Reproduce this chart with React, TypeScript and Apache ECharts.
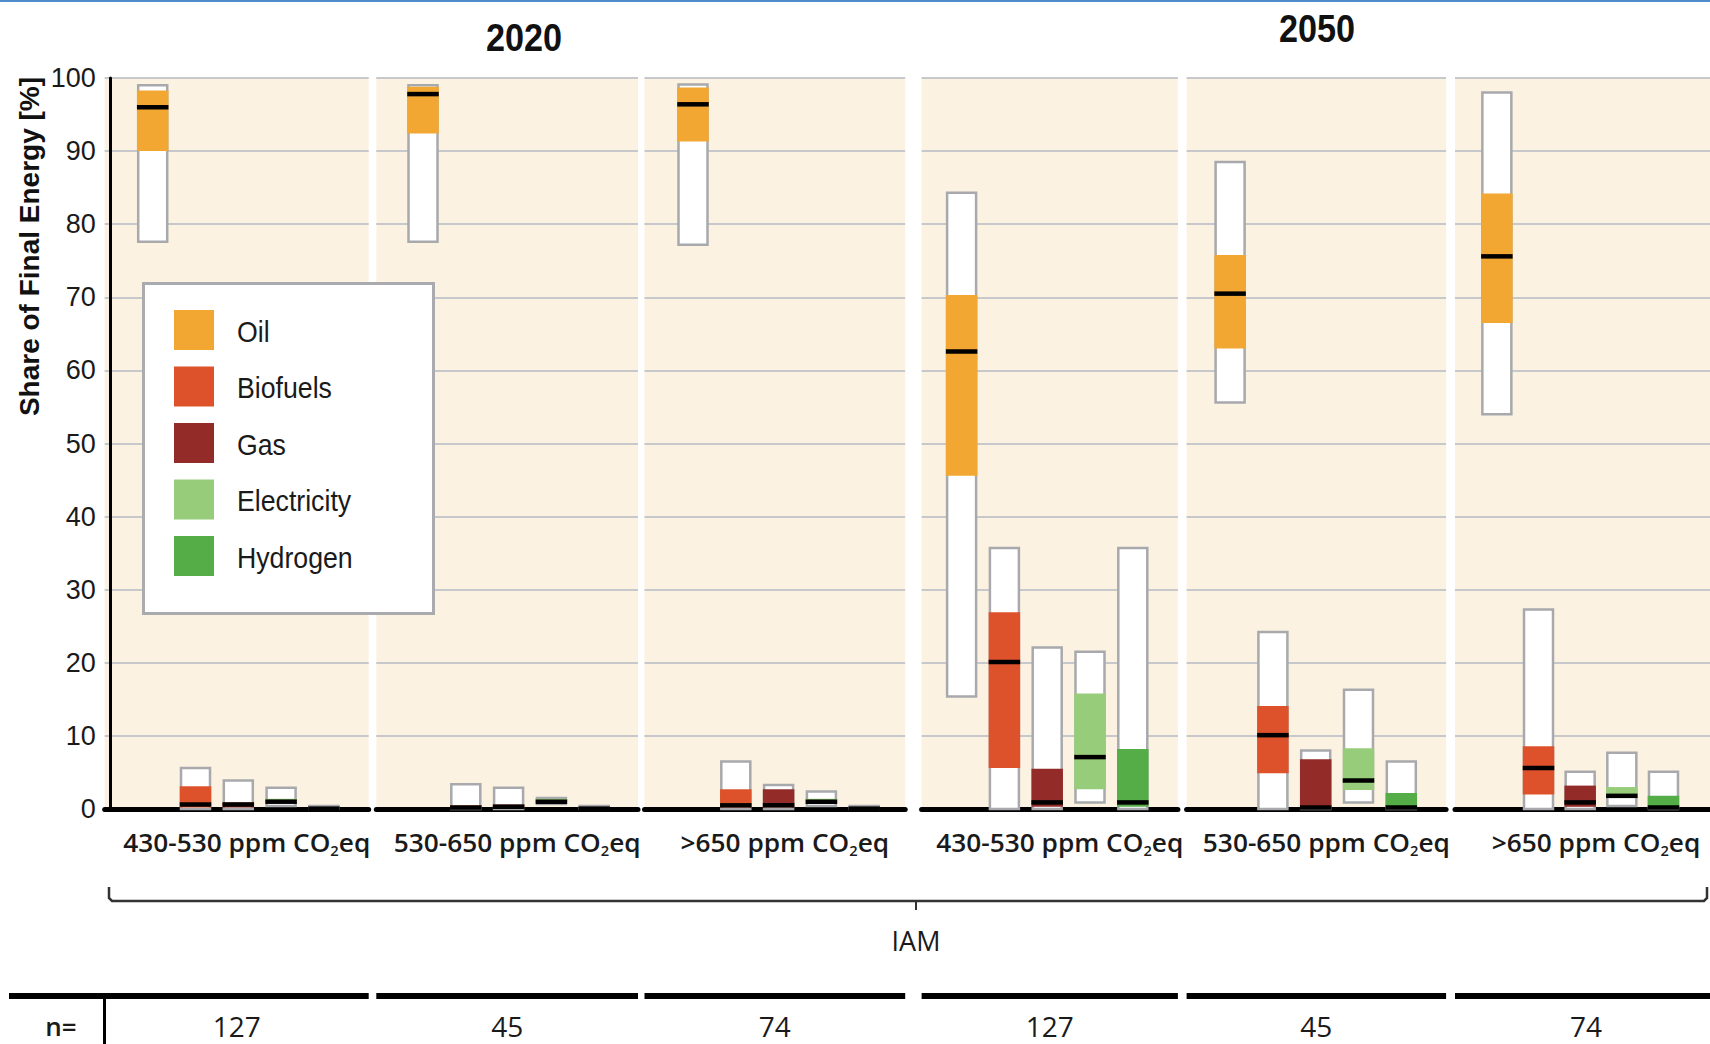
import { useEffect, useRef } from 'react';
import * as echarts from 'echarts';

// Energy carriers shown in every panel, left to right
const categories = ['Oil', 'Biofuels', 'Gas', 'Electricity', 'Hydrogen'];
const carrierColors = ['#f1a731', '#dd522b', '#932b29', '#97cc7a', '#55ad47'];
const years = ['2020', '2050'];
const scenarios = ['430-530 ppm CO2eq', '530-650 ppm CO2eq', '>650 ppm CO2eq'];
const sampleSizes = [127, 45, 74, 127, 45, 74];
const groupLabel = 'IAM';
const yAxisTitle = 'Share of Final Energy [%]';

// Each row: [min, 25th percentile, median, 75th percentile, max] in % of final energy
const y2020_430 = [
  [77.6, 90.0, 96.0, 98.3, 99.0],
  [0, 0.2, 0.6, 3.1, 5.6],
  [0, 0.2, 0.6, 0.9, 3.9],
  [0.4, 0.8, 1.0, 1.4, 2.9],
  [0, 0, 0.05, 0.1, 0.4],
];
const y2020_530 = [
  [77.6, 92.4, 97.8, 98.8, 99.0],
  [0, 0.1, 0.2, 0.5, 3.4],
  [0, 0.1, 0.3, 0.6, 2.9],
  [0.7, 0.9, 1.0, 1.4, 1.5],
  [0, 0, 0.05, 0.1, 0.4],
];
const y2020_650 = [
  [77.2, 91.3, 96.4, 98.7, 99.1],
  [0, 0.2, 0.5, 2.7, 6.5],
  [0, 0.2, 0.5, 2.7, 3.3],
  [0.4, 0.8, 1.0, 1.4, 2.4],
  [0, 0, 0.05, 0.1, 0.4],
];
const y2050_430 = [
  [15.4, 45.6, 62.6, 70.3, 84.3],
  [0, 5.6, 20.1, 26.9, 35.7],
  [0, 0.3, 0.9, 5.5, 22.1],
  [0.9, 2.7, 7.1, 15.8, 21.5],
  [0, 0.3, 0.9, 8.2, 35.7],
];
const y2050_530 = [
  [55.6, 63.0, 70.5, 75.8, 88.5],
  [0, 4.9, 10.1, 14.1, 24.2],
  [0, 0.1, 0.2, 6.8, 8.0],
  [0.9, 2.6, 3.9, 8.3, 16.3],
  [0, 0.1, 0.2, 2.2, 6.5],
];
const y2050_650 = [
  [54.0, 66.5, 75.6, 84.2, 98.0],
  [0, 2.0, 5.6, 8.6, 27.3],
  [0, 0.3, 0.9, 3.2, 5.1],
  [0.4, 1.6, 1.8, 3.0, 7.7],
  [0, 0.1, 0.2, 1.8, 5.1],
];
const panelStats = [y2020_430, y2020_530, y2020_650, y2050_430, y2050_530, y2050_650];

// Panel geometry (pixels)
const PANELS = [
  { left: 104.7, width: 264, first: 48 },
  { left: 376.3, width: 261.7, first: 46.7 },
  { left: 644.5, width: 260.7, first: 48.5 },
  { left: 921.6, width: 256.3, first: 40 },
  { left: 1186.6, width: 259.5, first: 43.5 },
  { left: 1455, width: 262, first: 43 },
];
const STEP = 42.8;
const GRID_TOP = 78;
const GRID_H = 731;
const BAR_W = 29;

const ARIAL = "'Liberation Sans', Arial, sans-serif";
const SANS = "'Open Sans', 'Noto Sans', sans-serif";

function richScenario(label: string) {
  const i = label.indexOf('CO2');
  return `{t|${label.slice(0, i + 2)}}{s|2}{t|${label.slice(i + 3)}}`;
}

export default function App() {
  const ref = useRef<HTMLDivElement>(null);

  useEffect(() => {
    if (!ref.current) return;
    const chart = echarts.init(ref.current, undefined, { renderer: 'svg' });

    const grids: any[] = [];
    const xAxes: any[] = [];
    const yAxes: any[] = [];
    const series: any[] = [];

    PANELS.forEach((p, k) => {
      const xmin = 1 - p.first / STEP;
      grids.push({
        left: p.left,
        width: p.width,
        top: GRID_TOP,
        height: GRID_H,
        show: true,
        borderWidth: 0,
        backgroundColor: '#fcf2e2',
      });
      xAxes.push({
        type: 'value',
        gridIndex: k,
        min: xmin,
        max: xmin + p.width / STEP,
        axisLine: { show: true, onZero: false, lineStyle: { color: '#000', width: 5 } },
        axisTick: { show: false },
        axisLabel: { show: false },
        splitLine: { show: false },
      });
      yAxes.push({
        type: 'value',
        gridIndex: k,
        min: 0,
        max: 100,
        interval: 10,
        axisLine: { show: k === 0, lineStyle: { color: '#000', width: 3 } },
        axisTick: { show: false },
        axisLabel: {
          show: k === 0,
          margin: 9,
          fontFamily: ARIAL,
          fontSize: 27,
          color: '#1a1a1a',
        },
        splitLine: { show: true, lineStyle: { color: '#c6c8cb', width: 2 } },
      });
      series.push({
        type: 'custom',
        xAxisIndex: k,
        yAxisIndex: k,
        clip: false,
        data: panelStats[k].map((s, i) => [i + 1, ...s]),
        renderItem: (params: any, api: any) => {
          const x = api.value(0);
          const lo = api.coord([x, api.value(1)]);
          const q1 = api.coord([x, api.value(2)]);
          const md = api.coord([x, api.value(3)]);
          const q3 = api.coord([x, api.value(4)]);
          const hi = api.coord([x, api.value(5)]);
          const cx = lo[0];
          const color = carrierColors[params.dataIndex];
          return {
            type: 'group',
            children: [
              {
                type: 'rect',
                shape: { x: cx - BAR_W / 2, y: hi[1], width: BAR_W, height: lo[1] - hi[1] },
                style: { fill: '#ffffff', stroke: '#a7a9ac', lineWidth: 2.5 },
              },
              {
                type: 'rect',
                shape: { x: cx - BAR_W / 2 - 1.25, y: q3[1], width: BAR_W + 2.5, height: q1[1] - q3[1] },
                style: { fill: color },
              },
              {
                type: 'line',
                shape: { x1: cx - BAR_W / 2 - 1.25, y1: md[1], x2: cx + BAR_W / 2 + 1.25, y2: md[1] },
                style: { stroke: '#000', lineWidth: 4.5 },
              },
            ],
          };
        },
      });
    });

    const graphics: any[] = [];
    // thin blue rule along the top edge
    graphics.push({ type: 'rect', shape: { x: 0, y: 0, width: 1710, height: 2 }, style: { fill: '#4f8bcb' } });

    // year headings
    graphics.push({
      type: 'text', x: 524, y: 37.5, scaleX: 0.9,
      style: { text: years[0], font: `bold 38px ${ARIAL}`, fill: '#111', align: 'center', verticalAlign: 'middle' },
    });
    graphics.push({
      type: 'text', x: 1317, y: 29, scaleX: 0.9,
      style: { text: years[1], font: `bold 38px ${ARIAL}`, fill: '#111', align: 'center', verticalAlign: 'middle' },
    });

    // y axis title
    graphics.push({
      type: 'text', x: 29, y: 246.5, rotation: Math.PI / 2,
      style: { text: yAxisTitle, font: `bold 28px ${ARIAL}`, fill: '#111', align: 'center', verticalAlign: 'middle' },
    });

    // scenario labels, n row
    PANELS.forEach((p, k) => {
      const c = p.left + p.width / 2;
      graphics.push({
        type: 'text', x: c + 10, y: 843, scaleX: 1.05,
        style: {
          text: richScenario(scenarios[k % 3]),
          align: 'center', verticalAlign: 'middle',
          rich: {
            t: { fontFamily: SANS, fontWeight: 600, fontSize: 25, fill: '#1a1a1a', lineHeight: 30 },
            s: { fontFamily: SANS, fontWeight: 600, fontSize: 14, fill: '#1a1a1a', lineHeight: 30, padding: [16, 0, 0, 0] },
          },
        },
      });
      graphics.push({
        type: 'line',
        shape: { x1: k === 0 ? 9 : p.left, y1: 996, x2: p.left + p.width, y2: 996 },
        style: { stroke: '#000', lineWidth: 6 },
      });
      graphics.push({
        type: 'text', x: c, y: 1026,
        style: { text: String(sampleSizes[k]), font: `28px ${SANS}`, fill: '#1a1a1a', align: 'center', verticalAlign: 'middle' },
      });
    });
    graphics.push({
      type: 'text', x: 61, y: 1026,
      style: { text: 'n=', font: `600 26px ${SANS}`, fill: '#1a1a1a', align: 'center', verticalAlign: 'middle' },
    });
    graphics.push({
      type: 'line', shape: { x1: 104.5, y1: 996, x2: 104.5, y2: 1044 },
      style: { stroke: '#000', lineWidth: 3 },
    });

    // brace grouping all scenarios
    graphics.push({
      type: 'polyline',
      shape: { points: [[109, 887], [109, 898], [112, 901], [1704, 901], [1707, 898], [1707, 887]] },
      style: { stroke: '#333', lineWidth: 2.5, fill: null },
    });
    graphics.push({
      type: 'line', shape: { x1: 916, y1: 901, x2: 916, y2: 910 },
      style: { stroke: '#333', lineWidth: 2 },
    });
    graphics.push({
      type: 'text', x: 916, y: 940,
      style: { text: groupLabel, font: `500 27px ${SANS}`, fill: '#1a1a1a', align: 'center', verticalAlign: 'middle' },
    });

    // legend box, drawn above the panels
    graphics.push({
      type: 'rect', z: 100, shape: { x: 143.5, y: 283.5, width: 290, height: 330 },
      style: { fill: '#ffffff', stroke: '#a9abae', lineWidth: 3 },
    });
    categories.forEach((name, i) => {
      const top = 310 + i * 56.5;
      graphics.push({
        type: 'rect', z: 101, shape: { x: 174, y: top, width: 40, height: 40 },
        style: { fill: carrierColors[i] },
      });
      graphics.push({
        type: 'text', z: 101, x: 237, y: top + 21, scaleX: 0.89,
        style: { text: name, font: `30px ${ARIAL}`, fill: '#1a1a1a', align: 'left', verticalAlign: 'middle' },
      });
    });

    chart.setOption({
      animation: false,
      backgroundColor: '#ffffff',
      grid: grids,
      xAxis: xAxes,
      yAxis: yAxes,
      series,
      graphic: graphics,
    });

    return () => chart.dispose();
  }, []);

  return (
    <div
      ref={ref}
      style={{ position: 'fixed', left: 0, top: 0, width: 1710, height: 1044 }}
    />
  );
}
